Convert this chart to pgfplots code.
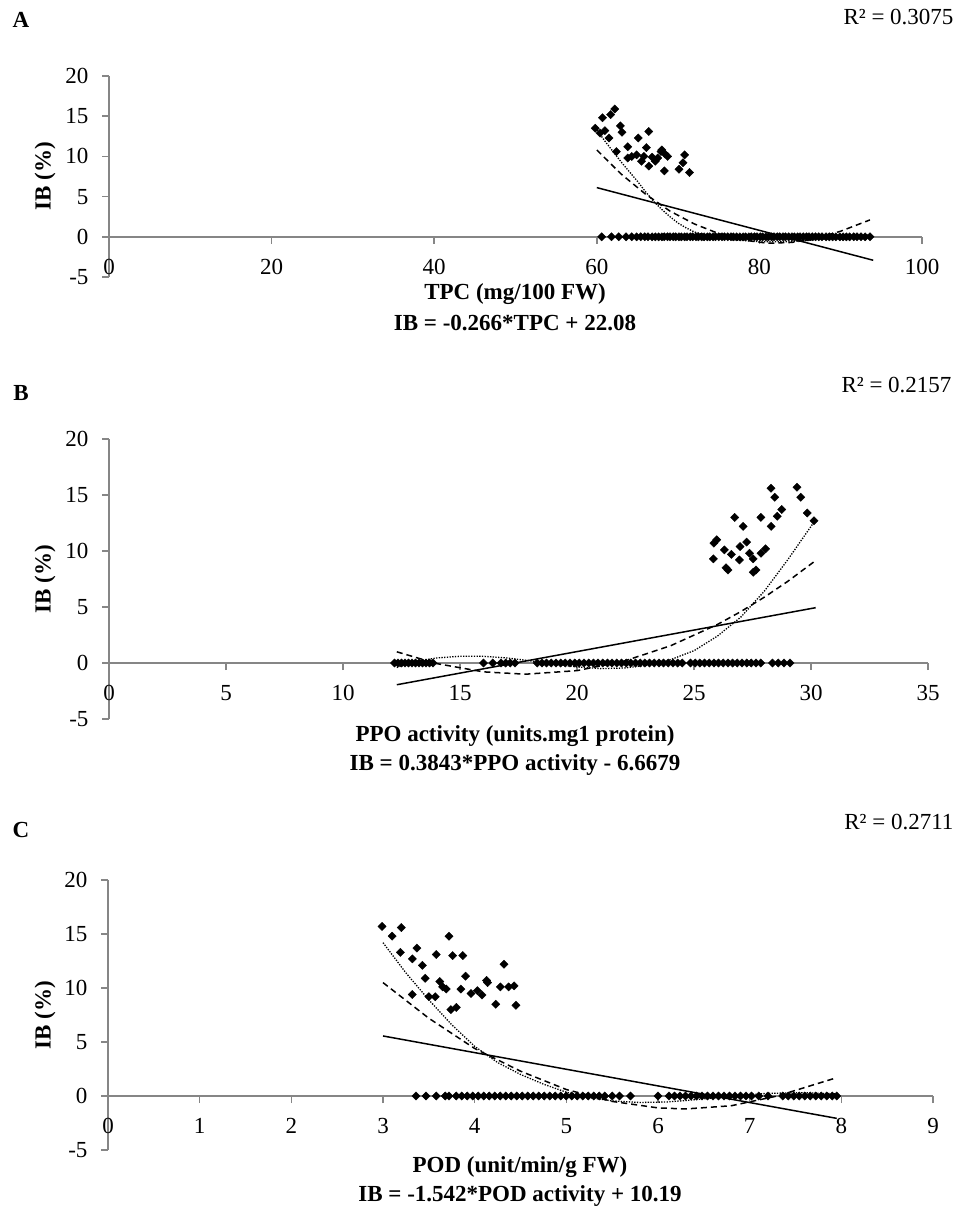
\documentclass[border=0pt]{standalone}
\usepackage{fontspec}
\setmainfont{Liberation Serif}
\usepackage{pgfplots}
\pgfplotsset{compat=1.18}
\definecolor{axgray}{HTML}{868686}
\newcommand\lab{\fontsize{23}{27}\selectfont}

\pgfplotsset{
  ibplot/.style={
    scale only axis,
    anchor=south west,
    axis x line=middle,
    axis y line=left,
    axis line style={axgray, line width=1.6pt, -},
    tick style={axgray, line width=1.6pt},
    major tick length=7pt,
    tick align=outside,
    hide obscured x ticks=false,
    hide obscured y ticks=false,
    ymin=-5, ymax=20,
    ytick={-5,0,5,10,15,20},
    xmin=0,
    tick label style={font=\lab, black},
    xticklabel style={yshift=-12pt},
    yticklabel style={xshift=-10pt},
    /pgf/number format/assume math mode=true,
    clip=false,
  },
  pts/.style={only marks, black, mark=square*, mark size=2.9pt,
    mark options={rotate=45, fill=black, draw=black}},
  lin/.style={black, line width=1.5pt, no marks},
  quad/.style={black, line width=1.5pt, dash pattern=on 6pt off 4pt, no marks},
  poly/.style={black, line width=1.3pt, dash pattern=on 1.3pt off 1.4pt, no marks},
}

\begin{document}
\begin{tikzpicture}
\useasboundingbox (0,0) rectangle (970pt,-1207pt);

% ---------- A ----------
\begin{axis}[ibplot, at={(109pt,-277pt)}, width=813pt, height=201pt,
  xmax=100, xtick={0,20,40,60,80,100}]
\addplot[pts] coordinates {
 (59.8,13.5)(60.4,12.9)(60.7,14.8)(61.0,13.2)(61.5,12.3)(61.7,15.2)(62.2,15.9)
 (62.4,10.6)(62.9,13.8)(63.1,13.0)(63.8,11.2)(63.8,9.8)(64.3,10.0)(64.9,10.2)
 (65.1,12.3)(65.5,9.4)(65.8,10.0)(66.1,11.1)(66.4,13.1)(66.4,8.8)(66.8,9.9)
 (67.2,9.4)(67.5,9.8)(67.9,10.6)(68.0,10.8)(68.4,10.3)(68.3,8.2)(68.7,10.0)
 (70.1,8.4)(70.6,9.2)(70.8,10.2)(71.4,8.0)
};
\addplot[pts] coordinates {
 (60.6,0)(61.8,0)(62.7,0)(63.6,0)(64.3,0)(64.9,0)(65.4,0)(65.9,0)(66.3,0)(66.8,0)
 (67.2,0)(67.6,0)(68.0,0)(68.3,0)(68.7,0)(69.0,0)(69.4,0)(69.7,0)(70.1,0)(70.4,0)
 (70.8,0)(71.1,0)(71.5,0)(71.8,0)(72.2,0)(72.5,0)(72.9,0)(73.2,0)(73.6,0)(73.9,0)
 (74.3,0)(74.6,0)(75.0,0)(75.4,0)(75.7,0)(76.1,0)(76.5,0)(76.8,0)(77.2,0)(77.6,0)
 (78.0,0)(78.3,0)(78.7,0)(79.0,0)(79.4,0)(79.7,0)(80.1,0)(80.4,0)(80.8,0)(81.1,0)
 (81.5,0)(81.8,0)(82.2,0)(82.5,0)(82.9,0)(83.2,0)(83.6,0)(84.0,0)(84.3,0)(84.7,0)
 (85.0,0)(85.4,0)(85.8,0)(86.1,0)(86.5,0)(86.9,0)(87.3,0)(87.7,0)(88.2,0)(88.6,0)
 (89.0,0)(89.4,0)(89.9,0)(90.3,0)(90.7,0)(91.1,0)(91.6,0)(92.0,0)(92.5,0)(93.0,0)
 (93.6,0)
};
\addplot[lin] coordinates {(60,6.12)(94,-2.92)};
\addplot[quad] coordinates {
 (60,10.8)(63,7.8)(66,5.3)(69,3.2)(72,1.6)(75,0.4)(78,-0.4)(81,-0.8)(84,-0.7)
 (87,-0.2)(90,0.7)(93.6,2.1)
};
\addplot[poly] coordinates {
 (60,13.3)(61,11.9)(62,10.6)(63,9.3)(64,8.1)(65,6.9)(66,5.6)(67,4.4)(68,3.4)
 (69,2.5)(70,1.7)(71,1.1)(72,0.6)(74,0)(77,-0.4)(80,-0.6)(84,-0.6)(88,-0.3)
 (91,0)(93.6,0.3)
};
\end{axis}
\node[font=\lab\bfseries] at (21pt,-20pt) {A};
\node[font=\lab, anchor=east] at (957pt,-17pt) {R² = 0.3075};
\node[font=\lab, rotate=90] at (45pt,-176.5pt) {\bfseries IB (\%)};
\node[font=\lab\bfseries] at (515pt,-294pt) {TPC (mg/100 FW)};
\node[font=\lab\bfseries] at (515pt,-323pt) {IB = -0.266*TPC + 22.08};

% ---------- B ----------
\begin{axis}[ibplot, at={(109pt,-719pt)}, width=819pt, height=280pt,
  xmax=35, xtick={0,5,10,15,20,25,30,35}]
\addplot[pts] coordinates {
 (28.29,15.6)(28.45,14.8)(29.4,15.7)(29.56,14.8)(28.75,13.7)(28.56,13.1)
 (28.3,12.2)(29.84,13.4)(30.13,12.7)(27.86,13.0)(26.74,13.0)(27.1,12.2)
 (25.97,11.0)(25.85,10.7)(26.3,10.1)(26.6,9.7)(26.97,10.4)(27.25,10.8)
 (27.37,9.8)(27.86,9.8)(28.06,10.2)(27.53,9.3)(26.94,9.2)(25.83,9.3)
 (26.37,8.5)(26.45,8.3)(27.53,8.1)(27.65,8.3)
};
\addplot[pts] coordinates {
 (12.2,0)(12.35,0)(12.5,0)(12.65,0)(12.8,0)(12.95,0)(13.1,0)(13.25,0)(13.4,0)
 (13.55,0)(13.7,0)(13.85,0)(16.0,0)(16.4,0)(16.75,0)(16.95,0)(17.15,0)(17.35,0)
 (18.3,0)(18.5,0)(18.7,0)(18.9,0)(19.1,0)(19.3,0)(19.5,0)(19.7,0)(19.9,0)
 (20.1,0)(20.3,0)(20.5,0)(20.7,0)(20.9,0)(21.1,0)(21.3,0)(21.5,0)(21.7,0)
 (21.9,0)(22.1,0)(22.3,0)(22.5,0)(22.7,0)(22.9,0)(23.1,0)(23.3,0)(23.5,0)
 (23.7,0)(23.9,0)(24.1,0)(24.3,0)(24.5,0)(24.85,0)(25.05,0)(25.25,0)(25.45,0)
 (25.65,0)(25.85,0)(26.05,0)(26.25,0)(26.45,0)(26.65,0)(26.85,0)(27.05,0)
 (27.25,0)(27.45,0)(27.65,0)(27.85,0)(28.35,0)(28.6,0)(28.85,0)(29.1,0)
};
\addplot[lin] coordinates {(12.3,-1.94)(30.2,4.94)};
\addplot[quad] coordinates {
 (12.3,1.0)(14,-0.05)(16,-0.79)(17.8,-1.0)(20,-0.68)(22,0.16)(24,1.54)
 (26,3.44)(27,4.59)(28,5.87)(29,7.28)(30.2,9.15)
};
\addplot[poly] coordinates {
 (12.3,-0.4)(13,0.1)(14,0.45)(15,0.6)(16,0.6)(17,0.45)(18,0.2)(19,-0.1)
 (20,-0.35)(21,-0.5)(22,-0.45)(23,-0.2)(24,0.3)(25,1.1)(26,2.4)(27,4.1)
 (28,6.4)(29,9.2)(30.2,12.8)
};
\end{axis}
\node[font=\lab\bfseries] at (21pt,-393pt) {B};
\node[font=\lab, anchor=east] at (955pt,-385pt) {R² = 0.2157};
\node[font=\lab, rotate=90] at (45pt,-579pt) {\bfseries IB (\%)};
\node[font=\lab\bfseries] at (515pt,-736pt) {PPO activity (units.mg1 protein)};
\node[font=\lab\bfseries] at (515pt,-765pt) {IB = 0.3843*PPO activity - 6.6679};

% ---------- C ----------
\begin{axis}[ibplot, at={(108pt,-1150pt)}, width=825pt, height=270pt,
  xmax=9, xtick={0,1,2,3,4,5,6,7,8,9}]
\addplot[pts] coordinates {
 (2.99,15.7)(3.10,14.8)(3.20,15.6)(3.19,13.3)(3.37,13.7)(3.32,12.7)(3.43,12.1)
 (3.72,14.8)(3.58,13.1)(3.76,13.0)(3.87,13.0)(3.46,10.9)(3.62,10.6)(3.65,10.1)
 (3.69,9.9)(3.90,11.1)(3.85,9.9)(3.32,9.4)(3.50,9.2)(3.57,9.2)(3.74,8.0)
 (3.80,8.2)(3.96,9.5)(4.03,9.75)(4.08,9.35)(4.13,10.7)(4.14,10.5)(4.23,8.5)
 (4.28,10.1)(4.32,12.2)(4.37,10.1)(4.43,10.2)(4.45,8.4)
};
\addplot[pts] coordinates {
 (3.36,0)(3.47,0)(3.58,0)(3.68,0)(3.72,0)(3.8,0)(3.86,0)(3.92,0)(3.98,0)
 (4.04,0)(4.1,0)(4.16,0)(4.22,0)(4.28,0)(4.34,0)(4.4,0)(4.46,0)(4.52,0)
 (4.58,0)(4.64,0)(4.7,0)(4.76,0)(4.82,0)(4.88,0)(4.94,0)(5.0,0)(5.06,0)
 (5.12,0)(5.18,0)(5.24,0)(5.3,0)(5.36,0)(5.42,0)(5.5,0)(5.58,0)(5.7,0)
 (6.0,0)(6.12,0)(6.18,0)(6.24,0)(6.3,0)(6.36,0)(6.42,0)(6.48,0)(6.54,0)
 (6.6,0)(6.66,0)(6.72,0)(6.78,0)(6.84,0)(6.9,0)(6.96,0)(7.02,0)(7.1,0)
 (7.2,0)(7.36,0)(7.42,0)(7.48,0)(7.54,0)(7.6,0)(7.66,0)(7.72,0)(7.78,0)
 (7.84,0)(7.9,0)(7.95,0)
};
\addplot[lin] coordinates {(3.0,5.56)(7.95,-2.07)};
\addplot[quad] coordinates {
 (3,10.5)(3.5,7.2)(4,4.4)(4.5,2.3)(5,0.6)(5.5,-0.5)(6,-1.1)(6.3,-1.2)
 (6.8,-0.9)(7.3,0)(7.95,1.7)
};
\addplot[poly] coordinates {
 (3,14.2)(3.25,11.4)(3.5,8.9)(3.75,6.6)(4,4.6)(4.25,3.1)(4.5,2.0)(4.75,1.1)
 (5,0.35)(5.25,-0.15)(5.5,-0.45)(5.8,-0.6)(6.1,-0.55)(6.4,-0.35)(6.8,0)
 (7.2,0.25)(7.6,0.3)(7.95,0.2)
};
\end{axis}
\node[font=\lab\bfseries] at (21pt,-830pt) {C};
\node[font=\lab, anchor=east] at (957pt,-822pt) {R² = 0.2711};
\node[font=\lab, rotate=90] at (45pt,-1015pt) {\bfseries IB (\%)};
\node[font=\lab\bfseries] at (520pt,-1167pt) {POD (unit/min/g FW)};
\node[font=\lab\bfseries] at (520pt,-1196pt) {IB = -1.542*POD activity + 10.19};
\end{tikzpicture}
\end{document}
